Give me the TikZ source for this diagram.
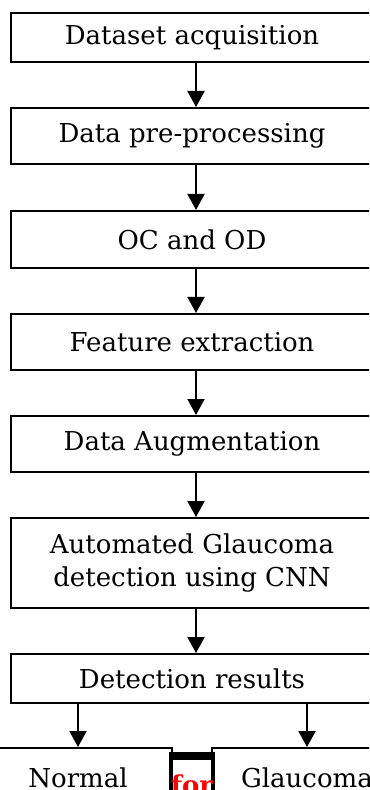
\documentclass[tikz,border=0pt]{standalone}
\usepackage{fontspec}
\setmainfont{DejaVu Serif}
\usetikzlibrary{arrows.meta}
\definecolor{ForRed}{RGB}{255,0,0}
\tikzset{
  stepbox/.style={draw,line width=1pt,minimum width=181pt,align=center,
                  inner sep=0pt,font=\fontsize{13}{16.5}\selectfont},
  arr/.style={line width=1pt,-{Triangle[length=8pt,width=8.5pt]}}
}

\begin{document}
\begin{tikzpicture}[x=0.5pt,y=-0.5pt]
  \clip (0,0) rectangle (369,790);
  \node[stepbox,minimum height=24.5pt] (acq) at (192,37.5) {Dataset acquisition};
  \node[stepbox,minimum height=28pt] (pre) at (192,136) {Data pre-processing};
  \node[stepbox,minimum height=28.5pt] (ocod) at (192,239.5) {OC and OD};
  \node[stepbox,minimum height=28pt] (feat) at (192,342) {Feature extraction};
  \node[stepbox,minimum height=28pt] (aug) at (192,444) {Data Augmentation};
  \node[stepbox,minimum height=45pt] (cnn) at (192,563) {Automated Glaucoma\\detection using CNN};
  \node[stepbox,minimum height=24.5pt] (res) at (192,678.5) {Detection results};
  % outcome boxes
  \node[stepbox,minimum width=94pt,minimum height=30pt] (normal) at (78,778) {Normal};
  \node[stepbox,minimum width=95pt,minimum height=30pt] (glau) at (307,778) {Glaucoma};
  \node[minimum width=20pt,minimum height=33pt,inner sep=0pt,
        font=\fontsize{13}{16.5}\selectfont\bfseries,text=ForRed] (forbox) at (192,785) {for};
  \draw[line width=1pt] (forbox.north west) -- (forbox.south west)
                        (forbox.north east) -- (forbox.south east);
  \draw[line width=4pt] ([yshift=-2pt]forbox.north west) -- ([yshift=-2pt]forbox.north east);
  % arrows
  \draw[arr] ([xshift=2pt]acq.south) -- ([xshift=2pt]pre.north);
  \draw[arr] ([xshift=2pt]pre.south) -- ([xshift=2pt]ocod.north);
  \draw[arr] ([xshift=2pt]ocod.south) -- ([xshift=2pt]feat.north);
  \draw[arr] ([xshift=2pt]feat.south) -- ([xshift=2pt]aug.north);
  \draw[arr] ([xshift=2pt]aug.south) -- ([xshift=2pt]cnn.north);
  \draw[arr] ([xshift=2pt]cnn.south) -- ([xshift=2pt]res.north);
  \draw[arr] (res.south -| normal) -- (normal);
  \draw[arr] (res.south -| glau) -- (glau);
\end{tikzpicture}
\end{document}
